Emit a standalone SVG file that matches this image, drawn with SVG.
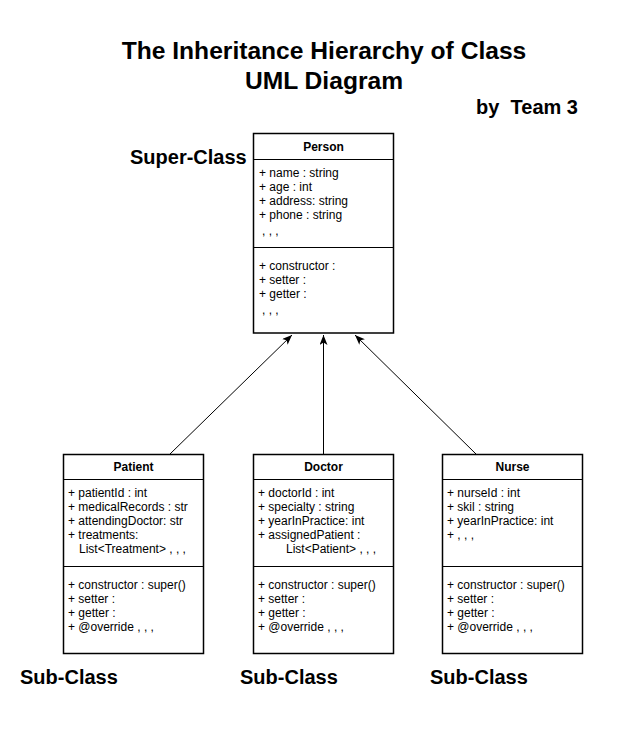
<svg xmlns="http://www.w3.org/2000/svg" width="634" height="734" viewBox="0 0 634 734">
<style>
.box{fill:#fff;stroke:#000;stroke-width:1.5}
.sep{stroke:#000;stroke-width:1.2}
.t{font-family:"Liberation Sans",Arial,sans-serif;font-size:12px;fill:#000}
.h{font-family:"Liberation Sans",Arial,sans-serif;font-size:12px;font-weight:bold;fill:#000;text-anchor:middle}
.lbl{font-family:"Liberation Sans",Arial,sans-serif;font-size:20px;font-weight:bold;fill:#000}
.title{font-family:"Liberation Sans",Arial,sans-serif;font-size:24.6px;font-weight:bold;fill:#000;text-anchor:middle}
.conn{stroke:#000;stroke-width:1;fill:none}
</style>
<defs>
<marker id="arr" markerUnits="userSpaceOnUse" markerWidth="12" markerHeight="10" refX="10" refY="4" orient="auto">
<path d="M0,0 L10,4 L0,8 L2.5,4 z" fill="#000"/>
</marker>
</defs>
<rect width="634" height="734" fill="#fff"/>
<g id="title">
<text class="title" x="324" y="59">The Inheritance Hierarchy of Class</text>
<text class="title" x="324" y="89">UML Diagram</text>
<text class="lbl" x="578" y="114" text-anchor="end" xml:space="preserve">by  Team 3</text>
</g>
<g id="labels">
<text class="lbl" x="130" y="164">Super-Class</text>
<text class="lbl" x="20" y="684">Sub-Class</text>
<text class="lbl" x="240" y="684">Sub-Class</text>
<text class="lbl" x="430" y="684">Sub-Class</text>
</g>
<g id="connectors">
<path class="conn" d="M170,454 L292,335" marker-end="url(#arr)"/>
<path class="conn" d="M323.5,454 L323.5,335" marker-end="url(#arr)"/>
<path class="conn" d="M476,454 L355,335" marker-end="url(#arr)"/>
</g>
<g id="person">
<rect class="box" x="253.5" y="133.5" width="140" height="199.5"/>
<line class="sep" x1="253.5" y1="159.5" x2="393.5" y2="159.5"/>
<line class="sep" x1="253.5" y1="247.5" x2="393.5" y2="247.5"/>
<text class="h" x="323.5" y="151">Person</text>
<text class="t" x="259" y="177">+ name : string</text>
<text class="t" x="259" y="191">+ age : int</text>
<text class="t" x="259" y="205">+ address: string</text>
<text class="t" x="259" y="219">+ phone : string</text>
<text class="t" x="262" y="235">, , ,</text>
<text class="t" x="259" y="270">+ constructor :</text>
<text class="t" x="259" y="284">+ setter :</text>
<text class="t" x="259" y="298">+ getter :</text>
<text class="t" x="262" y="314">, , ,</text>
</g>
<g id="patient">
<rect class="box" x="63.5" y="454.5" width="140" height="199"/>
<line class="sep" x1="63.5" y1="479.5" x2="203.5" y2="479.5"/>
<line class="sep" x1="63.5" y1="566.5" x2="203.5" y2="566.5"/>
<text class="h" x="133.5" y="471">Patient</text>
<text class="t" x="68" y="497">+ patientId : int</text>
<text class="t" x="68" y="511">+ medicalRecords : str</text>
<text class="t" x="68" y="525">+ attendingDoctor: str</text>
<text class="t" x="68" y="539">+ treatments:</text>
<text class="t" x="79" y="553">List&lt;Treatment&gt; , , ,</text>
<text class="t" x="68" y="589">+ constructor : super()</text>
<text class="t" x="68" y="603">+ setter :</text>
<text class="t" x="68" y="617">+ getter :</text>
<text class="t" x="68" y="631">+ @override , , ,</text>
</g>
<g id="doctor">
<rect class="box" x="253.5" y="454.5" width="140" height="199"/>
<line class="sep" x1="253.5" y1="479.5" x2="393.5" y2="479.5"/>
<line class="sep" x1="253.5" y1="566.5" x2="393.5" y2="566.5"/>
<text class="h" x="323.5" y="471">Doctor</text>
<text class="t" x="258" y="497">+ doctorId : int</text>
<text class="t" x="258" y="511">+ specialty : string</text>
<text class="t" x="258" y="525">+ yearInPractice: int</text>
<text class="t" x="258" y="539">+ assignedPatient :</text>
<text class="t" x="286" y="553">List&lt;Patient&gt; , , ,</text>
<text class="t" x="258" y="589">+ constructor : super()</text>
<text class="t" x="258" y="603">+ setter :</text>
<text class="t" x="258" y="617">+ getter :</text>
<text class="t" x="258" y="631">+ @override , , ,</text>
</g>
<g id="nurse">
<rect class="box" x="442.5" y="454.5" width="140" height="199"/>
<line class="sep" x1="442.5" y1="479.5" x2="582.5" y2="479.5"/>
<line class="sep" x1="442.5" y1="566.5" x2="582.5" y2="566.5"/>
<text class="h" x="512.5" y="471">Nurse</text>
<text class="t" x="447" y="497">+ nurseId : int</text>
<text class="t" x="447" y="511">+ skil : string</text>
<text class="t" x="447" y="525">+ yearInPractice: int</text>
<text class="t" x="447" y="539">+ , , ,</text>
<text class="t" x="447" y="589">+ constructor : super()</text>
<text class="t" x="447" y="603">+ setter :</text>
<text class="t" x="447" y="617">+ getter :</text>
<text class="t" x="447" y="631">+ @override , , ,</text>
</g>
</svg>
